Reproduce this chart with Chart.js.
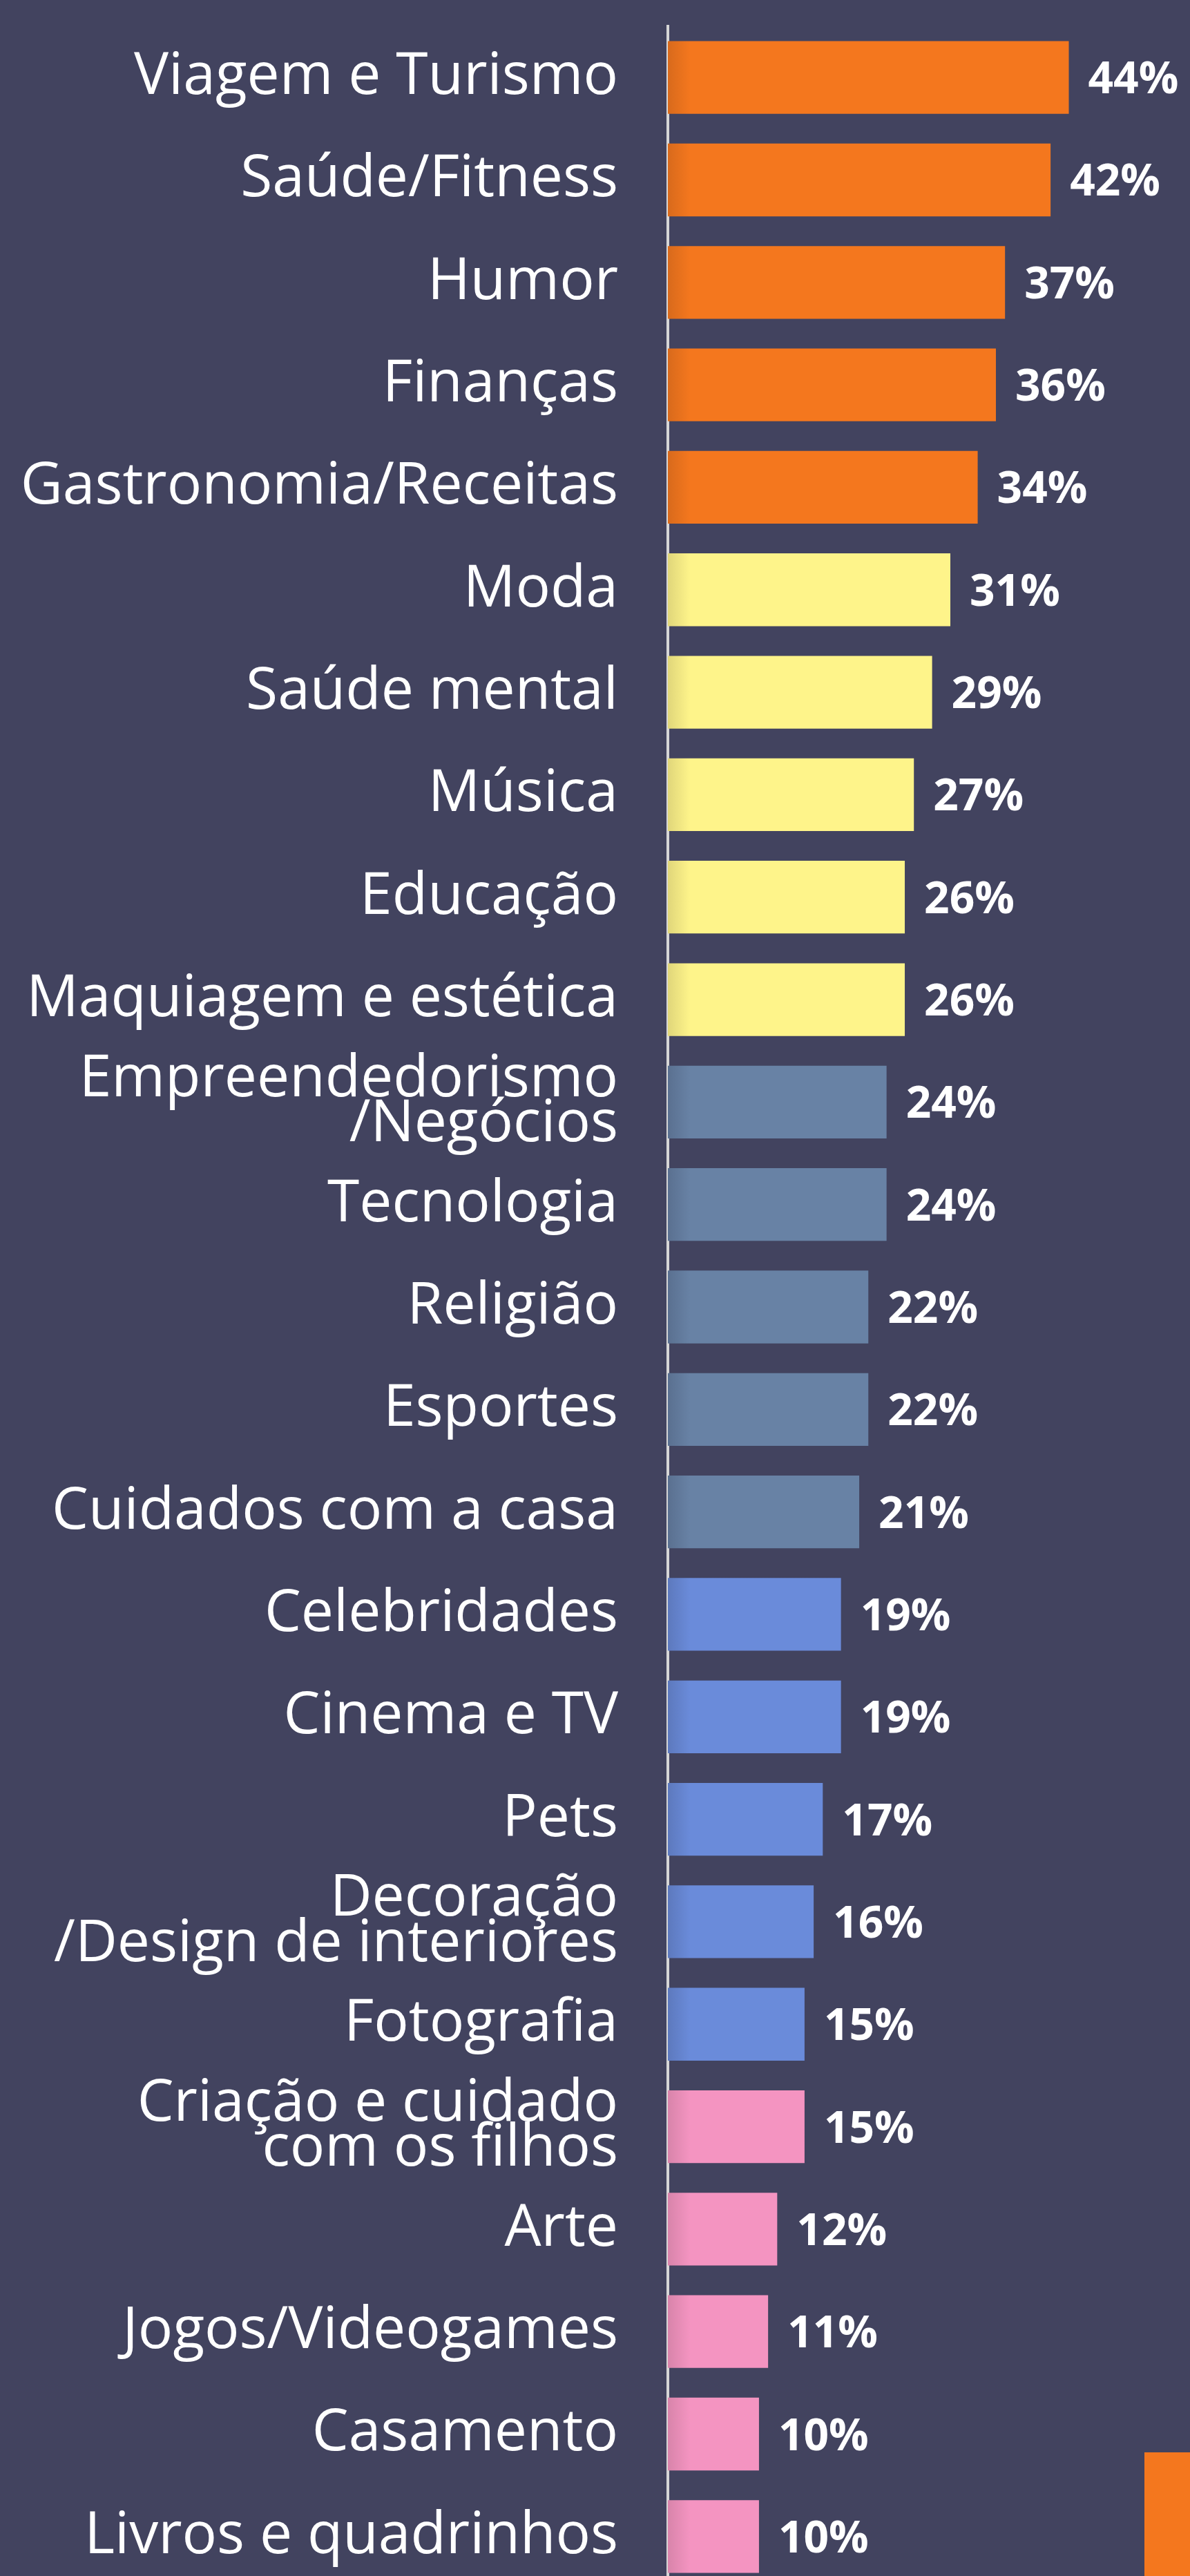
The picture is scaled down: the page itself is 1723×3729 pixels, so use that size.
<!DOCTYPE html>
<html lang="pt">
<head>
<meta charset="utf-8">
<title>Temas</title>
<script src="https://cdn.jsdelivr.net/npm/chart.js@4/dist/chart.umd.min.js"></script>
<style>
    html, body { margin: 0; padding: 0; background: #42435f; overflow: hidden; }
    #wrap { position: relative; width: 1723px; height: 3746px; }
    #cantoLaranja { position: absolute; left: 1657px; top: 3550px; width: 66px; height: 200px; background: #f4771e; }
</style>
</head>
<body>
<div id="wrap">
    <canvas id="myChart"></canvas>
    <div id="cantoLaranja"></div>
</div>
<script>
const categorias = [
    "Viagem e Turismo",
    "Saúde/Fitness",
    "Humor",
    "Finanças",
    "Gastronomia/Receitas",
    "Moda",
    "Saúde mental",
    "Música",
    "Educação",
    "Maquiagem e estética",
    ["Empreendedorismo", "/Negócios"],
    "Tecnologia",
    "Religião",
    "Esportes",
    "Cuidados com a casa",
    "Celebridades",
    "Cinema e TV",
    "Pets",
    ["Decoração", "/Design de interiores"],
    "Fotografia",
    ["Criação e cuidado", "com os filhos"],
    "Arte",
    "Jogos/Videogames",
    "Casamento",
    "Livros e quadrinhos"
];

const valores = [44, 42, 37, 36, 34, 31, 29, 27, 26, 26, 24, 24, 22, 22, 21, 19, 19, 17, 16, 15, 15, 12, 11, 10, 10];

// cor de cada grupo de 5 barras
const coresGrupo = ["#f4771e", "#fef48a", "#6882a5", "#6a8bda", "#f494c1"];
const sombraGrupo = ["#d86a1c", "#e0d67a", "#5a7090", "#5d79bd", "#d884aa"];

function corDaBarra(context) {
    const i = Math.floor(context.dataIndex / 5);
    const area = context.chart.chartArea;
    if (!area) return coresGrupo[i];
    // leve sombra no lado esquerdo da barra
    const g = context.chart.ctx.createLinearGradient(area.left, 0, area.left + 32, 0);
    g.addColorStop(0, sombraGrupo[i]);
    g.addColorStop(1, coresGrupo[i]);
    return g;
}

const rotulosValores = {
    id: "rotulosValores",
    afterDatasetsDraw(chart) {
        const ctx = chart.ctx;
        const meta = chart.getDatasetMeta(0);
        ctx.save();
        ctx.fillStyle = "#ffffff";
        ctx.font = "700 64px 'Open Sans'";
        ctx.textAlign = "left";
        ctx.textBaseline = "alphabetic";
        meta.data.forEach((bar, i) => {
            ctx.fillText(valores[i] + "%", bar.x + 28, bar.y + 23);
        });
        ctx.restore();
    }
};

const ctx = document.getElementById("myChart").getContext("2d");
const myChart = new Chart(ctx, {
    type: "bar",
    data: {
        labels: categorias,
        datasets: [{
            data: valores,
            backgroundColor: corDaBarra,
            borderWidth: 0,
            barPercentage: 0.71,
            categoryPercentage: 1
        }]
    },
    options: {
        indexAxis: "y",
        responsive: true,
        maintainAspectRatio: false,
        animation: false,
        layout: { padding: { top: 38, left: 0, right: 0, bottom: 0 } },
        plugins: {
            legend: { display: false },
            tooltip: { enabled: false }
        },
        scales: {
            x: {
                display: false,
                min: 0,
                max: 57.3
            },
            y: {
                afterFit(scale) {
                    scale.width = 967;
                    // sem espaço extra acima/abaixo para os rótulos
                    scale.paddingTop = 0;
                    scale.paddingBottom = 0;
                },
                grid: { display: true, color: "transparent", drawTicks: false },
                border: { display: true, color: "#d6d6d6", width: 4 },
                ticks: {
                    color: "#ffffff",
                    padding: 72,
                    font: { family: "'Open Sans'", size: 84, weight: 500, lineHeight: 0.78 }
                }
            }
        }
    },
    plugins: [rotulosValores]
});
</script>
</body>
</html>
